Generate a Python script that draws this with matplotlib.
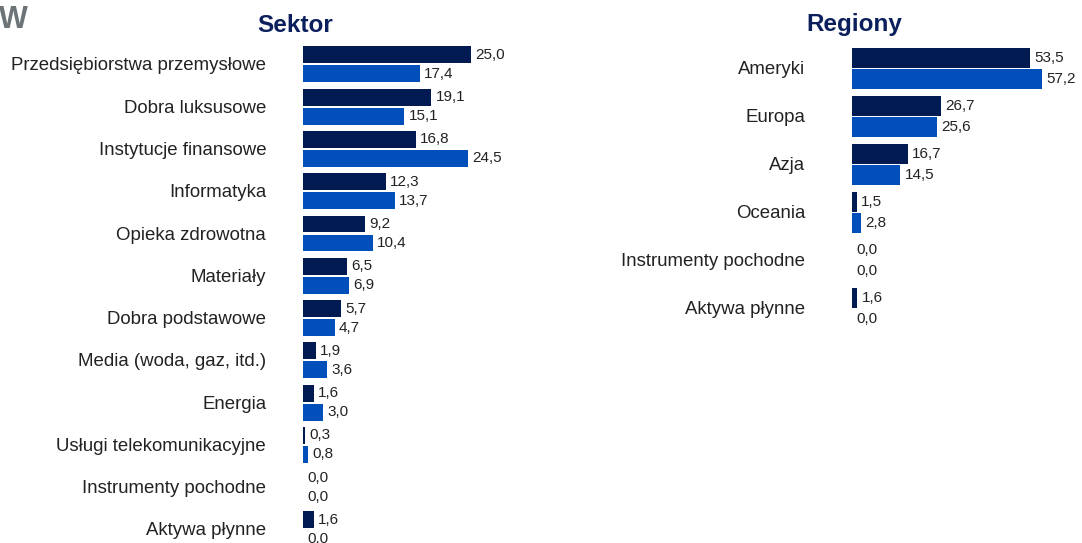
import matplotlib
matplotlib.use("Agg")
import matplotlib.pyplot as plt
import numpy as np

plt.rcParams['font.family'] = ['Liberation Sans', 'DejaVu Sans']

# Dane
sektory = ['Przedsiębiorstwa przemysłowe', 'Dobra luksusowe', 'Instytucje finansowe',
           'Informatyka', 'Opieka zdrowotna', 'Materiały', 'Dobra podstawowe',
           'Media (woda, gaz, itd.)', 'Energia', 'Usługi telekomunikacyjne',
           'Instrumenty pochodne', 'Aktywa płynne']
sektor_a = [25.0, 19.1, 16.8, 12.3, 9.2, 6.5, 5.7, 1.9, 1.6, 0.3, 0.0, 1.6]
sektor_b = [17.4, 15.1, 24.5, 13.7, 10.4, 6.9, 4.7, 3.6, 3.0, 0.8, 0.0, 0.0]

regiony = ['Ameryki', 'Europa', 'Azja', 'Oceania', 'Instrumenty pochodne', 'Aktywa płynne']
region_a = [53.5, 26.7, 16.7, 1.5, 0.0, 1.6]
region_b = [57.2, 25.6, 14.5, 2.8, 0.0, 0.0]

DARK = '#011a52'
BLUE = '#004fbb'
TXT = '#222222'

W, H = 1082, 543
fig = plt.figure(figsize=(W / 100, H / 100), dpi=100)


def panel(rect, cats, a, b, xmax, ymax, pad, bh, title, title_x):
    ax = fig.add_axes(rect)
    y = np.arange(len(cats))
    ax.barh(y - 0.215, a, height=bh, color=DARK)
    ax.barh(y + 0.235, b, height=bh, color=BLUE)
    for yi, v in zip(y, a):
        ax.annotate(f'{v:.1f}'.replace('.', ','), (v, yi - 0.215), xytext=(3, 0),
                    textcoords='offset points', va='center', ha='left',
                    fontsize=11, color=TXT)
    for yi, v in zip(y, b):
        ax.annotate(f'{v:.1f}'.replace('.', ','), (v, yi + 0.235), xytext=(3, 0),
                    textcoords='offset points', va='center', ha='left',
                    fontsize=11, color=TXT)
    ax.set_xlim(0, xmax)
    ax.set_ylim(ymax, -0.5)
    ax.set_yticks(y)
    ax.set_yticklabels(cats, fontsize=13.4, color=TXT)
    ax.tick_params(axis='y', length=0, pad=pad)
    ax.set_xticks([])
    for s in ax.spines.values():
        s.set_visible(False)
    fig.text(title_x / W, 1 - 25 / H, title, ha='center', va='center',
             fontsize=17.5, fontweight='bold', color='#0a1f5c')
    return ax


# lewy panel: zero na x=303, 6.72 px/jedn., grupy co 42.27 px od y=64
sp = 42.27
lft_top = 64 - 0.5 * sp
lft_ymax = (H - 64) / sp
panel([303 / W, 0, 30 * 6.72 / W, (H - lft_top) / H], sektory, sektor_a, sektor_b,
      30, lft_ymax, 26.5, 0.40, 'Sektor', 295)

# prawy panel: zero na x=852, 3.33 px/jedn., grupy co 48 px od y=68
rp = 48
r_top = 68 - 0.5 * rp
r_bot = 68 + 5.5 * rp
panel([852 / W, 1 - r_bot / H, 65 * 3.33 / W, (r_bot - r_top) / H], regiony,
      region_a, region_b, 65, 5.5, 33.5, 0.41, 'Regiony', 854)

fig.text(-1 / W, 1 - 20 / H, 'W', ha='left', va='center', fontsize=22,
         fontweight='bold', color='#6d7478')

fig.savefig('out.png', dpi=100)
